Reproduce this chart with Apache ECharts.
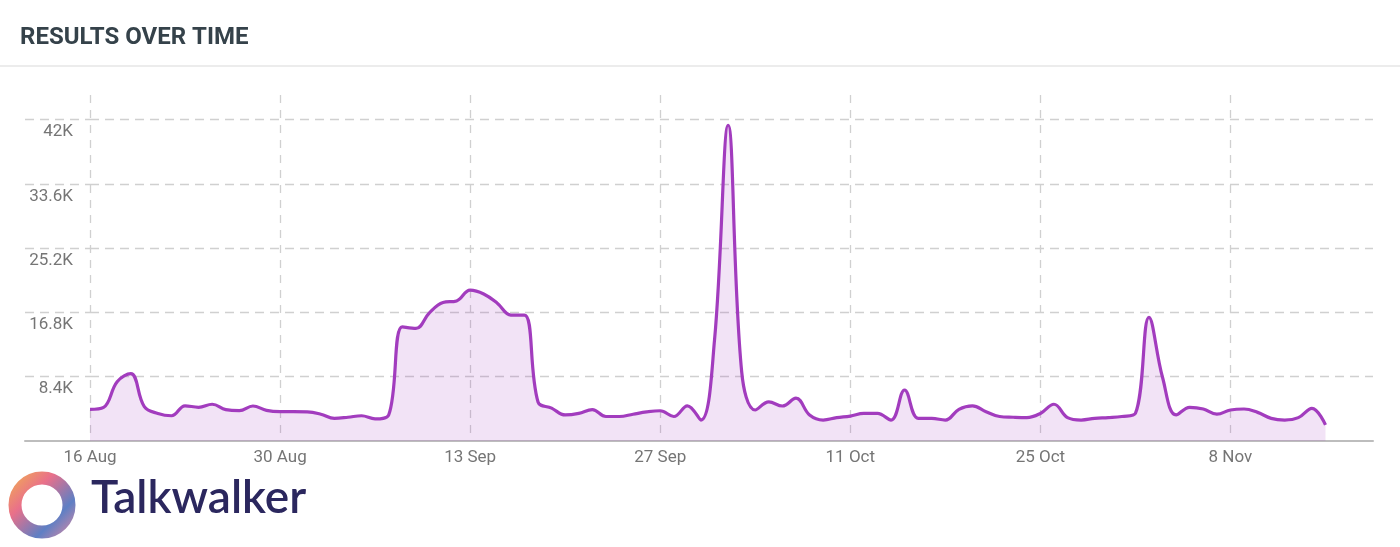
<!DOCTYPE html>
<html>
<head>
<meta charset="utf-8">
<script src="https://cdn.jsdelivr.net/npm/echarts@6/dist/echarts.min.js"></script>
<style>
html,body{margin:0;padding:0;background:#fff;}
#chart{width:1400px;height:547px;}
</style>
</head>
<body>
<div id="chart"></div>
<script>
// ---- data ----
const startDate = '2021-08-16';
// daily results, one value per day starting 16 Aug (in thousands)
const dailyResultsK = [
  4.14, 4.4, 7.75, 8.8, 4.5, 3.6, 3.3, 4.6, 4.4, 4.8,
  4.1, 3.96, 4.57, 4.0, 3.83, 3.83, 3.8, 3.5, 2.96, 3.1,
  3.3, 2.9, 3.4, 14.9, 14.7, 16.75, 18.1, 18.3, 19.7, 19.2,
  18.0, 16.45, 16.45, 5.1, 4.3, 3.4, 3.6, 4.1, 3.2, 3.2,
  3.5, 3.8, 3.95, 3.2, 4.6, 2.74, 13.2, 41.25, 9.05, 4.05,
  5.1, 4.57, 5.6, 3.4, 2.74, 3.05, 3.26, 3.6, 3.6, 2.74,
  6.66, 2.96, 2.96, 2.74, 4.14, 4.6, 3.83, 3.2, 3.1, 3.05,
  3.6, 4.8, 3.05, 2.74, 2.96, 3.05, 3.2, 3.6, 16.15, 8.3,
  3.4, 4.4, 4.18, 3.5, 4.05, 4.18, 3.74, 2.96, 2.74, 3.05,
  4.27, 2.1
];
const yTickValues = [8400, 16800, 25200, 33600, 42000];
const yTickLabels = ['8.4K', '16.8K', '25.2K', '33.6K', '42K'];
const xTickLabels = ['16 Aug', '30 Aug', '13 Sep', '27 Sep', '11 Oct', '25 Oct', '8 Nov'];
const monthNames = ['Jan','Feb','Mar','Apr','May','Jun','Jul','Aug','Sep','Oct','Nov','Dec'];

// ---- build ----
const seriesData = dailyResultsK.map((v, i) => [i, v * 1000]);
const start = new Date(startDate + 'T00:00:00Z').getTime();
function dayLabel(d) {
  const dt = new Date(start + d * 86400000);
  return dt.getUTCDate() + ' ' + monthNames[dt.getUTCMonth()];
}
function yLabel(v) {
  const i = yTickValues.indexOf(v);
  return i >= 0 ? yTickLabels[i] : '';
}

const gridColor = '#d0d0d0';
const chart = echarts.init(document.getElementById('chart'), null, {renderer: 'canvas'});
chart.setOption({
  backgroundColor: '#ffffff',
  animation: false,
  title: {
    text: 'RESULTS OVER TIME',
    left: 15, top: 21,
    textStyle: {fontFamily: 'Roboto', fontSize: 24, fontWeight: 'bold', color: '#35424a'}
  },
  grid: [
    {left: 90, right: 27, top: 95, bottom: 106},
    {left: 25, width: 65, top: 95, bottom: 106}
  ],
  xAxis: [
    {
      type: 'value', gridIndex: 0, min: 0, max: 94.5, interval: 14,
      axisLine: {show: true, lineStyle: {color: '#bdbdbd', width: 2}},
      axisTick: {show: false},
      splitLine: {show: true, showMinLine: true, showMaxLine: false,
        lineStyle: {color: gridColor, width: 1.3, type: [8, 7]}},
      axisLabel: {
        showMaxLabel: false, margin: 8,
        fontFamily: 'Roboto', fontSize: 17, color: '#757575',
        formatter: function (v) { return xTickLabels[Math.round(v / 14)] || dayLabel(v); }
      }
    },
    {
      type: 'value', gridIndex: 1, min: 0, max: 1,
      axisLine: {show: true, lineStyle: {color: '#bdbdbd', width: 2}},
      axisTick: {show: false}, axisLabel: {show: false}, splitLine: {show: false}
    }
  ],
  yAxis: [
    {
      type: 'value', gridIndex: 0, min: 0, max: 45200, interval: 8400,
      axisLine: {show: false}, axisTick: {show: false},
      splitLine: {show: true, showMinLine: false, showMaxLine: false,
        lineStyle: {color: gridColor, width: 1.3, type: [9, 6]}},
      axisLabel: {
        showMinLabel: false, showMaxLabel: false,
        margin: 17, verticalAlign: 'top', padding: [4, 0, 0, 0],
        fontFamily: 'Roboto', fontSize: 17, color: '#757575',
        formatter: yLabel
      }
    },
    {
      type: 'value', gridIndex: 1, min: 0, max: 45200, interval: 8400,
      axisLine: {show: false}, axisTick: {show: false}, axisLabel: {show: false},
      splitLine: {show: true, showMinLine: false, showMaxLine: false,
        lineStyle: {color: gridColor, width: 1.3, type: [9, 6]}}
    }
  ],
  series: [{
    type: 'line',
    xAxisIndex: 0, yAxisIndex: 0,
    data: seriesData,
    smooth: 0.4,
    showSymbol: false,
    lineStyle: {color: '#a23cbe', width: 3.2},
    itemStyle: {color: '#a23cbe'},
    areaStyle: {color: 'rgba(162,60,190,0.2)'}
  }],
  graphic: [
    {type: 'line', shape: {x1: 0, y1: 66, x2: 1400, y2: 66}, style: {stroke: '#ececec', lineWidth: 2}, silent: true},
    {type: 'circle', shape: {cx: 42, cy: 505, r: 27},
      style: {fill: 'none', lineWidth: 13,
        stroke: new echarts.graphic.LinearGradient(0, 0, 1, 1, [
          {offset: 0, color: '#f2b34c'}, {offset: 0.35, color: '#e9708a'},
          {offset: 0.7, color: '#5e7fc4'}, {offset: 1, color: '#e98aa0'}])}, silent: true},
    {type: 'text', left: 91, top: 475,
      style: {text: 'Talkwalker', fontFamily: 'Lato', fontSize: 46, fontWeight: 600, fill: '#2b275e'}, silent: true}
  ]
});
</script>
</body>
</html>
